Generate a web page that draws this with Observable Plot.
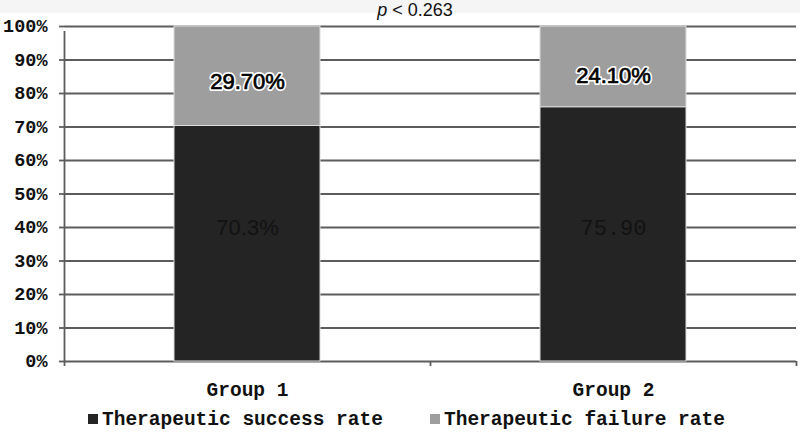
<!DOCTYPE html>
<html>
<head>
<meta charset="utf-8">
<script src="https://cdn.jsdelivr.net/npm/d3@7"></script>
<script src="https://cdn.jsdelivr.net/npm/@observablehq/plot@0.6"></script>
<style>
  body { margin: 0; background: #fff; }
  #wrap { position: relative; width: 800px; height: 434px; overflow: hidden; }
  #band { position: absolute; left: 0; top: 0; width: 800px; height: 13px; background: #f5f5f5; }
  #title { position: absolute; left: 0; width: 830px; top: -1px; text-align: center; font: 18px "Liberation Sans", Arial, sans-serif; color: #111; line-height: 22px; }
  #chart { position: absolute; left: 0; top: 0; }
  #legend { position: absolute; top: 409px; left: 0; width: 800px; font: bold 19.5px "Liberation Mono", "Courier New", monospace; color: #111; }
  .item { position: absolute; top: 0; white-space: nowrap; line-height: 22px; }
  .sw { display: inline-block; width: 10px; height: 10px; margin-right: 4px; vertical-align: 1px; }
</style>
</head>
<body>
<div id="wrap">
  <div id="band"></div>
  <div id="chart"></div>
  <div id="title"><i>p</i> &lt; 0.263</div>
  <div id="legend"></div>
</div>
<script>
const groups = ["Group 1", "Group 2"];
const series = ["Therapeutic success rate", "Therapeutic failure rate"];
const successValues = [70.3, 75.9];
const failureValues = [29.7, 24.1];
const successLabels = ["70.3%", "75.90"];
const failureLabels = ["29.70%", "24.10%"];
const colors = ["#242424", "#9e9e9e"];
const yTicks = [0, 10, 20, 30, 40, 50, 60, 70, 80, 90, 100];

const rows = [];
groups.forEach((g, i) => {
  rows.push({i, group: g, series: series[0], base: 0, value: successValues[i], label: successLabels[i]});
  rows.push({i, group: g, series: series[1], base: successValues[i], value: failureValues[i], label: failureLabels[i]});
});
const succ = rows.filter(d => d.series === series[0]);
const fail = rows.filter(d => d.series === series[1]);

const mono = '"Liberation Mono", "Courier New", monospace';
const sans = '"Liberation Sans", Arial, sans-serif';

function failLabel(d, dy) {
  return [
    Plot.text([d], {x: r => r.i + 0.5, y: r => r.base + r.value / 2, text: "label", dy,
      fontSize: 22, fill: "#fff", stroke: "#fff", strokeWidth: 4, fontFamily: sans}),
    Plot.text([d], {x: r => r.i + 0.5, y: r => r.base + r.value / 2, text: "label", dy,
      fontSize: 22, fill: "#000", stroke: "#000", strokeWidth: 0.7, fontFamily: sans})
  ];
}

const chart = Plot.plot({
  width: 800,
  height: 434,
  marginTop: 26,
  marginBottom: 73,
  marginLeft: 64,
  marginRight: 4,
  style: {background: "transparent", fontFamily: mono},
  x: {type: "linear", domain: [0, groups.length], axis: null},
  y: {type: "linear", domain: [0, 100], axis: null},
  color: {domain: series, range: colors},
  marks: [
    // gridlines
    Plot.ruleY(yTicks, {y: d => d, x1: 0, x2: groups.length, stroke: "#5c5c5c", strokeWidth: 1.8}),
    // bars
    Plot.rect(rows, {
      x1: d => d.i, x2: d => d.i + 1, y1: "base", y2: d => d.base + d.value,
      fill: "series", insetLeft: 110, insetRight: 110,
      stroke: "#dcdcdc", strokeWidth: 1
    }),
    // left axis line and ticks
    Plot.ruleX([0], {x: d => d, y1: 0, y2: 100, stroke: "#5c5c5c", strokeWidth: 1.8, insetBottom: -5}),
    Plot.ruleY(yTicks, {y: d => d, x1: 0, x2: 0, stroke: "#5c5c5c", strokeWidth: 1.8, insetLeft: -5}),
    Plot.text(yTicks, {x: 0, y: d => d, text: d => d + "%", textAnchor: "end", dx: -17,
      fontSize: 18.5, fontWeight: "bold", fill: "#111", fontFamily: mono}),
    // x-axis boundary ticks
    Plot.ruleX(d3.range(groups.length + 1), {x: d => d, y1: 0, y2: 0, stroke: "#5c5c5c", strokeWidth: 1.8, insetBottom: -5}),
    // group labels
    Plot.text(groups, {x: (d, i) => i + 0.5, y: 0, text: d => d, dy: 28,
      fontSize: 19.5, fontWeight: "bold", fill: "#111", fontFamily: mono}),
    // value labels
    ...failLabel(fail[0], 6),
    ...failLabel(fail[1], 9),
    Plot.text([succ[0]], {x: d => d.i + 0.5, y: d => d.value / 2, text: "label", dy: -16,
      fontSize: 22, fill: "#121212", fontFamily: sans}),
    Plot.text([succ[1]], {x: d => d.i + 0.5, y: d => d.value / 2, text: "label", dy: -6,
      fontSize: 22, fill: "#121212", fontFamily: mono})
  ]
});
document.getElementById("chart").appendChild(chart);

const legend = document.getElementById("legend");
const lefts = [88, 430];
series.forEach((s, i) => {
  const el = document.createElement("div");
  el.className = "item";
  el.style.left = lefts[i] + "px";
  el.innerHTML = `<span class="sw" style="background:${colors[i]}"></span>${s}`;
  legend.appendChild(el);
});
</script>
</body>
</html>
